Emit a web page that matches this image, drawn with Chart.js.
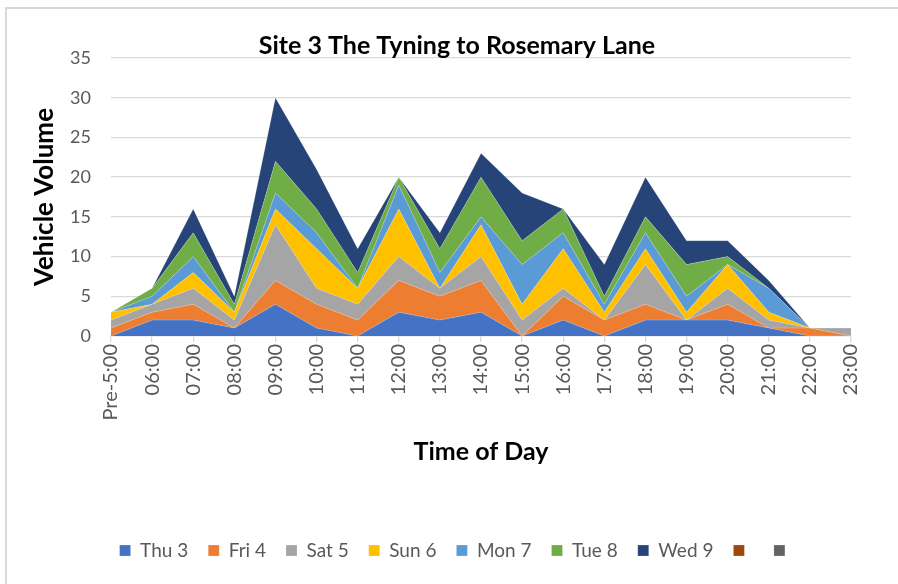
<!DOCTYPE html>
<html>
<head>
<meta charset="utf-8">
<script src="https://cdn.jsdelivr.net/npm/chart.js@4/dist/chart.umd.min.js"></script>
<style>
  html, body { margin: 0; padding: 0; background: #fff; }
  #frame { position: absolute; left: 5px; top: 7px; width: 900px; height: 580px; border: 2px solid #d9d9d9; box-sizing: border-box; }
  #wrap { position: absolute; left: 0; top: 0; width: 898px; height: 584px; }
</style>
</head>
<body>
<div id="frame"></div>
<div id="wrap"><canvas id="myChart"></canvas></div>
<script>
// hours along the x axis
const hours = ['Pre-5:00', '06:00', '07:00', '08:00', '09:00', '10:00', '11:00', '12:00', '13:00', '14:00',
    '15:00', '16:00', '17:00', '18:00', '19:00', '20:00', '21:00', '22:00', '23:00']

// vehicles per hour, one array per day (stacked)
const thu3 = [0, 2, 2, 1, 4, 1, 0, 3, 2, 3, 0, 2, 0, 2, 2, 2, 1, 0, 0]
const fri4 = [1, 1, 2, 0, 3, 3, 2, 4, 3, 4, 0, 3, 2, 2, 0, 2, 0, 1, 0]
const sat5 = [1, 1, 2, 1, 7, 2, 2, 3, 1, 3, 2, 1, 0, 5, 0, 2, 1, 0, 1]
const sun6 = [1, 0, 2, 1, 2, 5, 2, 6, 0, 4, 2, 5, 1, 2, 1, 3, 1, 0, 0]
const mon7 = [0, 1, 2, 0, 2, 2, 0, 3, 2, 1, 5, 2, 1, 2, 2, 0, 3, 0, 0]
const tue8 = [0, 1, 3, 1, 4, 3, 2, 1, 3, 5, 3, 3, 1, 2, 4, 1, 0, 0, 0]
const wed9 = [0, 0, 3, 1, 8, 5, 3, 0, 2, 3, 6, 0, 4, 5, 3, 2, 1, 0, 0]

const dayNames = ['Thu 3', 'Fri 4', 'Sat 5', 'Sun 6', 'Mon 7', 'Tue 8', 'Wed 9', '', '']
const dayColors = ['#4472C4', '#ED7D31', '#A5A5A5', '#FFC000', '#5B9BD5', '#70AD47', '#264478', '#9E480E', '#636363']
const yTicks = [0, 5, 10, 15, 20, 25, 30, 35]

const font = 'Lato'
const values = [thu3, fri4, sat5, sun6, mon7, tue8, wed9, [], []]

const datasets = []
for (let i = 0; i < dayNames.length; i++) {
    datasets.push({
        label: dayNames[i],
        data: values[i],
        backgroundColor: dayColors[i],
        borderColor: 'rgba(255,255,255,0.35)',
        borderWidth: 0.6,
        pointRadius: 0,
        fill: i === 0 ? 'origin' : '-1',
        tension: 0,
    })
}

const ctx = document.getElementById('myChart')
new Chart(ctx, {
    type: 'line',
    data: {labels: hours, datasets: datasets},
    options: {
        responsive: true,
        maintainAspectRatio: false,
        animation: false,
        // left padding is wide so title + legend centre like the excel chart
        layout: {padding: {left: 63, right: 47, top: 33, bottom: 14}},
        plugins: {
            tooltip: {enabled: false},
            title: {
                display: true,
                text: 'Site 3 The Tyning to Rosemary Lane',
                color: '#000',
                font: {family: font, size: 25, weight: 'bold', lineHeight: 1},
                padding: {top: 0, bottom: 0},
            },
            legend: {
                position: 'bottom',
                labels: {
                    color: '#595959',
                    font: {family: font, size: 19},
                    boxWidth: 11,
                    boxHeight: 11,
                    padding: 20,
                },
            },
        },
        scales: {
            x: {
                grid: {drawOnChartArea: false, drawTicks: true, tickLength: 6, color: '#d9d9d9', lineWidth: 1.3},
                border: {color: '#d9d9d9', width: 1.3},
                ticks: {
                    color: '#595959',
                    font: {family: font, size: 20},
                    minRotation: 90,
                    maxRotation: 90,
                    autoSkip: false,
                    padding: 2,
                },
                title: {
                    display: true,
                    text: 'Time of Day',
                    color: '#000',
                    font: {family: font, size: 25, weight: 'bold'},
                    padding: {top: 0, bottom: 54},
                },
                afterFit: function (scale) {
                    scale.height = 185
                },
            },
            y: {
                stacked: true,
                min: 0,
                max: 35,
                afterBuildTicks: function (scale) {
                    scale.ticks = yTicks.map(v => ({value: v}))
                },
                grid: {color: '#d9d9d9', lineWidth: 1.3, drawTicks: false},
                border: {display: false},
                ticks: {
                    color: '#595959',
                    font: {family: font, size: 18},
                    padding: 20,
                },
                title: {
                    display: true,
                    text: 'Vehicle Volume',
                    color: '#000',
                    font: {family: font, size: 26, weight: 'bold'},
                    padding: {top: -33.6, bottom: 0},
                },
                afterFit: function (scale) {
                    scale.width = 48
                },
            },
        },
    },
})
</script>
</body>
</html>
